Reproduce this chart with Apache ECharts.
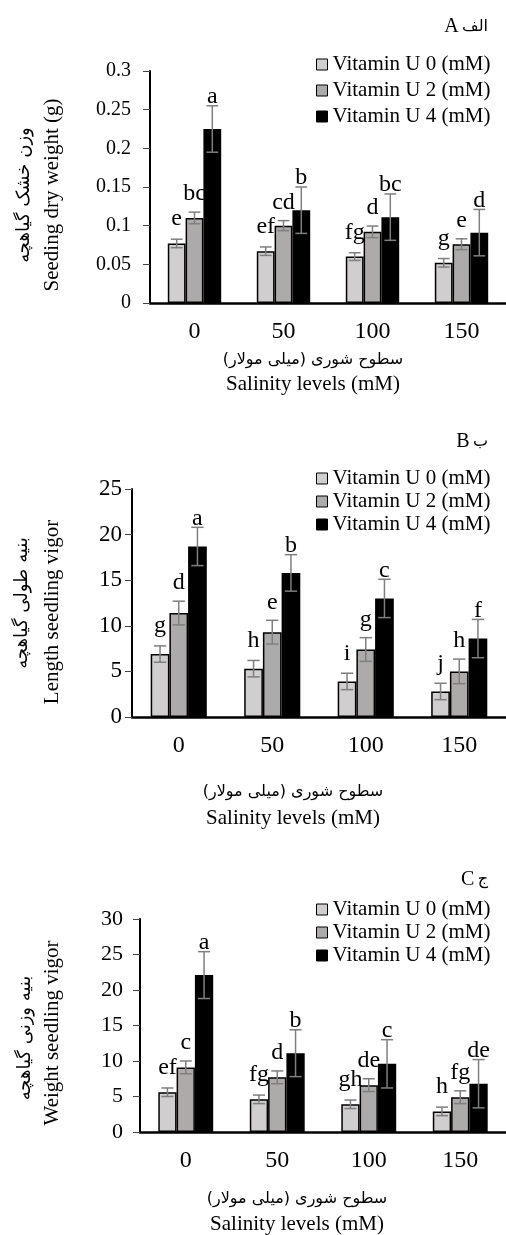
<!DOCTYPE html>
<html>
<head>
    <meta charset="utf-8">
    <title>Vitamin U</title>
    <script src="https://cdn.jsdelivr.net/npm/echarts@6/dist/echarts.min.js"></script>
    <style>
        html, body { margin: 0; padding: 0; background: #fff; }
        #main { width: 506px; height: 1235px; }
    </style>
</head>
<body>
<div id="main"></div>
<script type="text/javascript">
    // 数据
    var salinity = ['0', '50', '100', '150'];
    var vitLevels = ['Vitamin U 0 (mM)', 'Vitamin U 2 (mM)', 'Vitamin U 4 (mM)'];

    // A: seedling dry weight (g)
    var dryU0 = [0.077, 0.067, 0.060, 0.052];
    var dryU2 = [0.110, 0.100, 0.092, 0.076];
    var dryU4 = [0.225, 0.120, 0.111, 0.091];
    var dryErrU0 = [0.0055, 0.0055, 0.005, 0.0055];
    var dryErrU2 = [0.0075, 0.0065, 0.0075, 0.007];
    var dryErrU4 = [0.030, 0.030, 0.030, 0.030];
    var dryLetU0 = ['e', 'ef', 'fg', 'g'];
    var dryLetU2 = ['bc', 'cd', 'd', 'e'];
    var dryLetU4 = ['a', 'b', 'bc', 'd'];

    // B: length seedling vigor
    var lenU0 = [6.9, 5.3, 3.9, 2.8];
    var lenU2 = [11.4, 9.3, 7.4, 5.0];
    var lenU4 = [18.7, 15.8, 13.0, 8.6];
    var lenErrU0 = [0.9, 0.9, 0.9, 0.9];
    var lenErrU2 = [1.3, 1.3, 1.3, 1.35];
    var lenErrU4 = [2.1, 2.0, 2.1, 2.1];
    var lenLetU0 = ['g', 'h', 'i', 'j'];
    var lenLetU2 = ['d', 'e', 'g', 'h'];
    var lenLetU4 = ['a', 'b', 'c', 'f'];

    // C: weight seedling vigor
    var wtU0 = [5.6, 4.6, 3.9, 2.9];
    var wtU2 = [9.1, 7.7, 6.6, 4.9];
    var wtU4 = [22.1, 11.1, 9.6, 6.8];
    var wtErrU0 = [0.6, 0.6, 0.6, 0.6];
    var wtErrU2 = [0.9, 0.9, 0.9, 0.9];
    var wtErrU4 = [3.3, 3.3, 3.4, 3.4];
    var wtLetU0 = ['ef', 'fg', 'gh', 'h'];
    var wtLetU2 = ['c', 'd', 'de', 'fg'];
    var wtLetU4 = ['a', 'b', 'c', 'de'];

    var panels = [
        { means: [dryU0, dryU2, dryU4], errs: [dryErrU0, dryErrU2, dryErrU4], lets: [dryLetU0, dryLetU2, dryLetU4] },
        { means: [lenU0, lenU2, lenU4], errs: [lenErrU0, lenErrU2, lenErrU4], lets: [lenLetU0, lenLetU2, lenLetU4] },
        { means: [wtU0, wtU2, wtU4], errs: [wtErrU0, wtErrU2, wtErrU4], lets: [wtLetU0, wtLetU2, wtLetU4] }
    ];

    var serif = '"Liberation Serif", "Times New Roman", serif';
    var persian = '"DejaVu Sans", sans-serif';
    var barColors = ['#D0CECE', '#AEAAAA', '#000000'];
    var letterShift = [8, 6, -3];

    var myChart = echarts.init(document.getElementById('main'));

    function yAxisOf(p, max, interval, margin, size) {
        return {
            type: 'value', gridIndex: p, min: 0, max: max, interval: interval,
            splitLine: { show: false },
            axisLine: { show: true, lineStyle: { color: '#000', width: 2 } },
            axisTick: { show: true, length: 7, lineStyle: { color: '#444', width: 1 } },
            axisLabel: { color: '#000', fontFamily: serif, fontSize: size, margin: margin }
        };
    }

    function xAxisOf(p) {
        return {
            type: 'category', gridIndex: p, data: salinity,
            axisLine: { lineStyle: { color: '#000', width: 2.5 } },
            axisTick: { show: false },
            axisLabel: { color: '#000', fontFamily: serif, fontSize: 24, margin: 17 }
        };
    }

    function errSeries(p, i) {
        var pn = panels[p];
        var rows = pn.means[i].map(function (m, k) { return [k, m, pn.errs[i][k]]; });
        return {
            type: 'custom', name: 'err' + p + i, xAxisIndex: p, yAxisIndex: p,
            z: 5, silent: true, data: rows, encode: { x: 0, y: 1 },
            renderItem: function (params, api) {
                var k = api.value(0), m = api.value(1), e = api.value(2);
                var bw = api.size([1, 0])[0] * 0.2;
                var x = api.coord([k, m])[0] + (i - 1) * bw;
                var top = api.coord([k, m + e])[1];
                var bot = api.coord([k, m - e])[1];
                var cap = bw * 0.33;
                var st = { stroke: '#7f7f7f', lineWidth: 1.5 };
                return {
                    type: 'group',
                    children: [
                        { type: 'line', shape: { x1: x, y1: top, x2: x, y2: bot }, style: st },
                        { type: 'line', shape: { x1: x - cap, y1: top, x2: x + cap, y2: top }, style: st },
                        { type: 'line', shape: { x1: x - cap, y1: bot, x2: x + cap, y2: bot }, style: st },
                        {
                            type: 'text', x: x, y: top - letterShift[i],
                            style: {
                                text: pn.lets[i][params.dataIndex], fill: '#000',
                                font: '24px ' + serif, align: 'center', verticalAlign: 'bottom'
                            }
                        }
                    ]
                };
            }
        };
    }

    var series = [];
    for (var p = 0; p < 3; p++) {
        for (var i = 0; i < 3; i++) {
            series.push({
                name: vitLevels[i], type: 'bar', xAxisIndex: p, yAxisIndex: p,
                data: panels[p].means[i], barWidth: '20%', barGap: '0%',
                itemStyle: { color: barColors[i], borderColor: '#000', borderWidth: 1.5 }
            });
        }
    }
    for (var p2 = 0; p2 < 3; p2++) {
        for (var j = 0; j < 3; j++) series.push(errSeries(p2, j));
    }

    function legendOf(top, gap) {
        return {
            data: vitLevels, orient: 'vertical', left: 316, top: top, padding: 0,
            itemGap: gap, itemWidth: 11, itemHeight: 11, icon: 'rect',
            itemStyle: { borderColor: '#000', borderWidth: 1 },
            textStyle: { color: '#000', fontFamily: serif, fontSize: 21 }
        };
    }

    function txt(x, y, text, font, rot, align) {
        return {
            type: 'text', x: x, y: y, rotation: rot || 0,
            style: { text: text, font: font, fill: '#000', align: align || 'center', verticalAlign: 'middle' }
        };
    }

    var option = {
        backgroundColor: '#FFFFFF',
        animation: false,
        grid: [
            { left: 150, top: 71, width: 359, height: 232 },
            { left: 132, top: 489, width: 377, height: 228 },
            { left: 140, top: 919, width: 369, height: 213 }
        ],
        xAxis: [xAxisOf(0), xAxisOf(1), xAxisOf(2)],
        yAxis: [yAxisOf(0, 0.3, 0.05, 19, 20), yAxisOf(1, 25, 5, 10, 23), yAxisOf(2, 30, 5, 17, 22)],
        legend: [legendOf(54, 5), legendOf(468, 2), legendOf(899, 2)],
        series: series,
        graphic: [
            // 标题
            { type: 'text', x: 488, y: 27, style: { text: '{e|A} {f|الف}', align: 'right', verticalAlign: 'middle',
                rich: { e: { font: '20px ' + serif, fill: '#000' }, f: { font: '16px ' + persian, fill: '#000' } } } },
            { type: 'text', x: 488, y: 442, style: { text: '{e|B} {f|ب}', align: 'right', verticalAlign: 'middle',
                rich: { e: { font: '20px ' + serif, fill: '#000' }, f: { font: '16px ' + persian, fill: '#000' } } } },
            { type: 'text', x: 488, y: 880, style: { text: '{e|C} {f|ج}', align: 'right', verticalAlign: 'middle',
                rich: { e: { font: '20px ' + serif, fill: '#000' }, f: { font: '16px ' + persian, fill: '#000' } } } },
            // y 轴名称
            txt(24, 195, 'وزن خشک گیاهچه', '18px ' + persian, Math.PI / 2),
            txt(52, 195, 'Seeding dry weight (g)', '21px ' + serif, Math.PI / 2),
            txt(22, 603, 'بنیه طولی گیاهچه', '18px ' + persian, Math.PI / 2),
            txt(52, 612, 'Length seedling vigor', '21px ' + serif, Math.PI / 2),
            txt(25, 1038, 'بنیه وزنی گیاهچه', '18px ' + persian, Math.PI / 2),
            txt(52, 1033, 'Weight seedling vigor', '21px ' + serif, Math.PI / 2),
            // x 轴名称
            txt(313, 360, 'سطوح شوری (میلی مولار)', '16px ' + persian),
            txt(313, 384, 'Salinity levels (mM)', '21px ' + serif),
            txt(293, 792, 'سطوح شوری (میلی مولار)', '16px ' + persian),
            txt(293, 818, 'Salinity levels (mM)', '21px ' + serif),
            txt(297, 1199, 'سطوح شوری (میلی مولار)', '16px ' + persian),
            txt(297, 1224, 'Salinity levels (mM)', '21px ' + serif)
        ]
    };

    myChart.setOption(option);
</script>
</body>
</html>
